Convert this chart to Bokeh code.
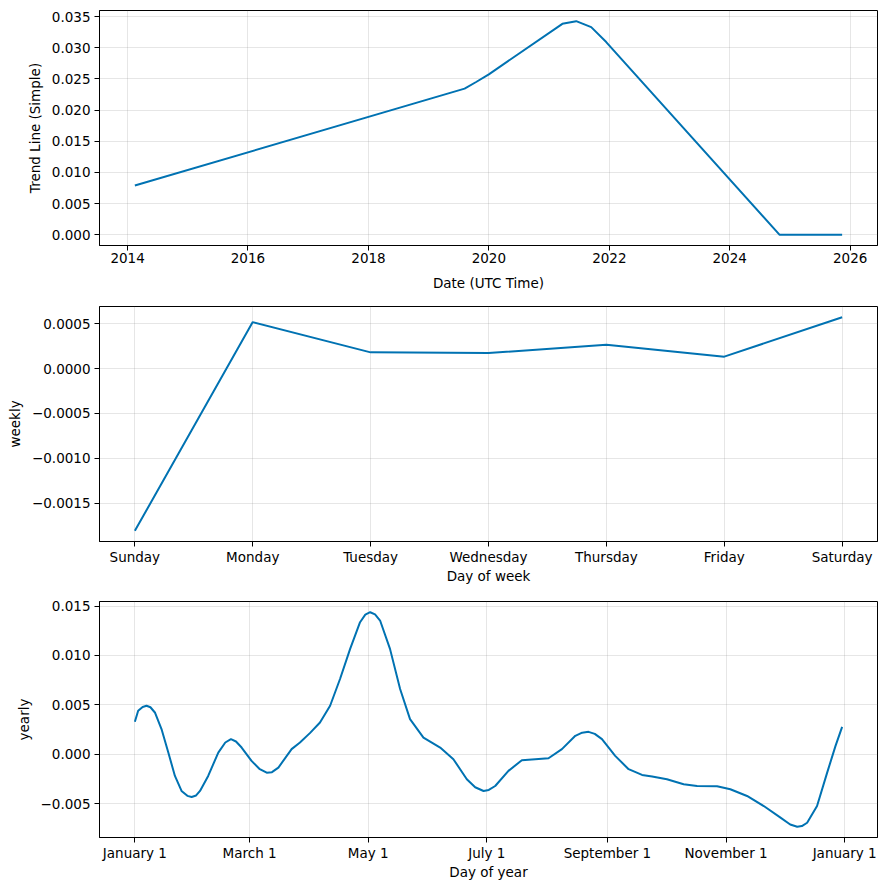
import pandas as pd
from bokeh.plotting import figure
from bokeh.layouts import column
from bokeh.models import FixedTicker, Range1d, CustomJSTickFormatter
from bokeh.embed import file_html
from bokeh.resources import INLINE

# ---- data ----
trend_dates = ["2014-02-14", "2019-08-07", "2019-10-16", "2020-01-01", "2021-03-22",
               "2021-06-14", "2021-09-13", "2021-12-13", "2024-10-30", "2025-11-13"]
trend_values = [0.0079, 0.02344, 0.0245, 0.02573, 0.03383,
                0.03425, 0.0333, 0.0309, 0.0, 0.0]
trend_tick_years = [2014, 2016, 2018, 2020, 2022, 2024, 2026]

weekdays = ["Sunday", "Monday", "Tuesday", "Wednesday", "Thursday", "Friday", "Saturday"]
weekly_values = [-0.001808, 0.000518, 0.000181, 0.000173, 0.000267, 0.000133, 0.000573]

yearly_days = [0, 1.7, 4, 6, 8, 10.3, 13.7, 17.2, 20.6, 24, 27, 29.2, 31.5, 33.5,
               37.7, 42.9, 46.5, 49.4, 52, 54.9, 60, 64, 67.8, 70.5, 73.8, 80.6, 84.9, 90,
               95.2, 100.4, 105.5, 110.7, 115.8, 118.5, 121, 123.5, 126.1, 131.2, 136.4, 141.5,
               148.4, 157, 163.8, 170.7, 175, 179.3, 182, 185.3, 192.1, 199, 205.9, 212.7,
               219.6, 226.5, 230, 233.3, 236.5, 240.2, 247, 253.9, 260.8, 266, 273.6, 282.2,
               289.1, 299.4, 306.2, 314.8, 323.4, 332, 337, 340.6, 343, 345.7, 350.8, 356,
               360.3, 363.7]
yearly_values = [0.00328, 0.00439, 0.00478, 0.0049, 0.00475, 0.00422, 0.00254, 0.00016, -0.0022, -0.00372, -0.00422, -0.00433, -0.00418, -0.00372,
                 -0.0022, 0.00016, 0.00118, 0.00152, 0.00128, 0.00067, -0.00068, -0.00148, -0.00187, -0.00182, -0.00136, 0.00051, 0.00118, 0.00213,
                 0.00321, 0.0049, 0.00761, 0.01066, 0.01336, 0.01412, 0.01437, 0.01415, 0.01353, 0.01066, 0.0066, 0.00355,
                 0.00168, 0.00067, -0.00051, -0.00254, -0.00335, -0.00373, -0.00362, -0.00322, -0.00169, -0.00061, -0.00051, -0.00041,
                 0.00051, 0.00186, 0.00218, 0.00226, 0.00205, 0.00152, -0.00017, -0.00152, -0.0021, -0.00225, -0.00254, -0.00304,
                 -0.00322, -0.00325, -0.00355, -0.00423, -0.00525, -0.00643, -0.00712, -0.00735, -0.00728, -0.00694, -0.00525, -0.00187,
                 0.00084, 0.00277]
yearly_tick_days = [0, 59, 120, 181, 243, 304, 365]
yearly_tick_labels = ["January 1", "March 1", "May 1", "July 1", "September 1",
                      "November 1", "January 1"]

LINE = "#0072B2"
FONT = "DejaVu Sans"
FS = "13.5px"


def pad(lo, hi, frac=0.05):
    s = hi - lo
    return lo - frac * s, hi + frac * s


def yfmt(dec):
    return CustomJSTickFormatter(code=f"""
        let t = Math.abs(tick) < 1e-12 ? 0 : tick;
        return t.toFixed({dec}).replace('-', '\\u2212');
    """)


def style(p, xlabel, ylabel, xlabel_standoff=0):
    p.outline_line_color = "black"
    p.outline_line_alpha = 1
    p.outline_line_width = 1
    p.xaxis.axis_label = xlabel
    p.yaxis.axis_label = ylabel
    for ax in p.axis:
        ax.axis_label_text_font = FONT
        ax.axis_label_text_font_size = FS
        ax.axis_label_text_font_style = "normal"
        ax.axis_label_text_color = "black"
        ax.major_label_text_font = FONT
        ax.major_label_text_font_size = FS
        ax.major_label_text_color = "black"
        ax.major_tick_out = 5
        ax.major_tick_in = 0
        ax.minor_tick_out = 0
        ax.minor_tick_in = 0
        ax.axis_line_color = "black"
        ax.major_tick_line_color = "black"
        ax.major_label_standoff = 4
        ax.axis_label_standoff = 6
    p.xaxis.major_label_standoff = 2
    p.xaxis.axis_label_standoff = xlabel_standoff
    p.grid.grid_line_color = "gray"
    p.grid.grid_line_alpha = 0.2
    p.grid.grid_line_width = 1


common = dict(width=878, output_backend="svg", toolbar_location=None,
              min_border_left=99, min_border_right=1)

# ---- trend ----
tx = pd.to_datetime(trend_dates)
tms = [t.value / 1e6 for t in tx]
x0, x1 = pad(min(tms), max(tms))
y0, y1 = pad(min(trend_values), max(trend_values))
p1 = figure(height=300, x_axis_type="datetime", x_range=Range1d(x0, x1),
            y_range=Range1d(y0, y1), min_border_top=10, min_border_bottom=55, **common)
p1.line(tx, trend_values, line_color=LINE, line_width=2)
tick_ms = [pd.Timestamp(f"{y}-01-01").value / 1e6 for y in trend_tick_years]
p1.xaxis.ticker = FixedTicker(ticks=tick_ms)
p1.xaxis.major_label_overrides = {m: str(y) for m, y in zip(tick_ms, trend_tick_years)}
p1.yaxis.ticker = FixedTicker(ticks=[i * 0.005 for i in range(8)])
p1.yaxis.formatter = yfmt(3)
style(p1, "Date (UTC Time)", "Trend Line (Simple)", xlabel_standoff=9)

# ---- weekly ----
wx = list(range(len(weekdays)))
y0, y1 = pad(min(weekly_values), max(weekly_values))
p2 = figure(height=288, x_range=Range1d(-0.3, 6.3), y_range=Range1d(y0, y1),
            min_border_top=6, min_border_bottom=47, **common)
p2.line(wx, weekly_values, line_color=LINE, line_width=2)
p2.xaxis.ticker = FixedTicker(ticks=wx)
p2.xaxis.major_label_overrides = {i: d for i, d in zip(wx, weekdays)}
p2.yaxis.ticker = FixedTicker(ticks=[-0.0015, -0.001, -0.0005, 0.0, 0.0005])
p2.yaxis.formatter = yfmt(4)
style(p2, "Day of week", "weekly")

# ---- yearly ----
x0, x1 = pad(min(yearly_days), max(yearly_days))
y0, y1 = pad(min(yearly_values), max(yearly_values))
p3 = figure(height=295, x_range=Range1d(x0, x1), y_range=Range1d(y0, y1),
            min_border_top=13, min_border_bottom=46, **common)
p3.line(yearly_days, yearly_values, line_color=LINE, line_width=2, line_join="round")
p3.xaxis.ticker = FixedTicker(ticks=yearly_tick_days)
p3.xaxis.major_label_overrides = {d: l for d, l in zip(yearly_tick_days, yearly_tick_labels)}
p3.yaxis.ticker = FixedTicker(ticks=[-0.005, 0.0, 0.005, 0.01, 0.015])
p3.yaxis.formatter = yfmt(3)
style(p3, "Day of year", "yearly")

layout = column(p1, p2, p3)
open("out.html", "w").write(file_html(layout, INLINE))
